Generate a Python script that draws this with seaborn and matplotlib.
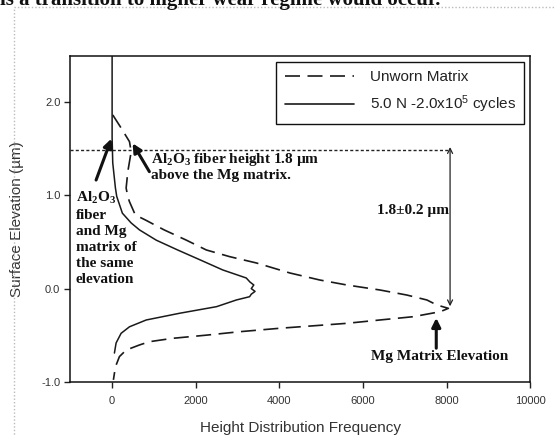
import matplotlib
matplotlib.use("Agg")
import matplotlib.pyplot as plt
import seaborn as sns
from matplotlib.patches import Rectangle
from matplotlib.lines import Line2D

# ---------------- data ----------------
worn_elev = [2.50, 1.62, 1.35, 1.08, 0.99, 0.81, 0.705, 0.63, 0.52, 0.415, 0.31, 0.20,
             0.114, 0.07, 0.039, 0.0, -0.03, -0.06, -0.087, -0.122, -0.194, -0.265,
             -0.337, -0.41, -0.48, -0.584, -0.692]
worn_freq = [5, 5, 20, 84, 115, 250, 460, 660, 1060, 1570, 2100, 2650,
             3210, 3300, 3390, 3330, 3420, 3330, 3290, 2975, 2500, 1615,
             820, 420, 220, 100, 60]

unworn_elev = [1.865, 1.725, 1.578, 1.47, 1.256, 1.08, 0.987, 0.933, 0.79, 0.737, 0.63,
               0.52, 0.415, 0.343, 0.275, 0.168, 0.092, 0.039, -0.015, -0.069, -0.122,
               -0.176, -0.212, -0.248, -0.302, -0.337, -0.373, -0.40, -0.426, -0.463,
               -0.50, -0.534, -0.57, -0.605, -0.66, -0.73, -0.84, -0.98]
unworn_freq = [20, 220, 420, 460, 380, 340, 380, 420, 560, 800, 1250,
               1780, 2255, 2815, 3455, 4250, 4970, 5610, 6405, 7045, 7525,
               7765, 8040, 7845, 7195, 6405, 5610, 4800, 4010, 3050,
               2255, 1450, 900, 660, 340, 180, 84, 36]

series_labels = ["Unworn Matrix", "5.0 N -2.0x10$^{5}$ cycles"]
x_ticks = [0, 2000, 4000, 6000, 8000, 10000]
y_ticks = [-1.0, 0.0, 1.0, 2.0]
y_tick_labels = ["-1.0", "0.0", "1.0", "2.0"]

fiber_height = 1.49      # dotted reference level
matrix_level = -0.19     # Mg matrix elevation
arrow_x = 8080

# ---------------- style ----------------
sns.set_theme(style="white")
plt.rcParams["font.family"] = ["Liberation Sans", "DejaVu Sans"]
plt.rcParams["mathtext.fontset"] = "custom"
plt.rcParams["mathtext.rm"] = "Liberation Sans"
plt.rcParams["mathtext.it"] = "Liberation Sans:italic"
plt.rcParams["mathtext.bf"] = "Liberation Serif:bold"

fig = plt.figure(figsize=(5.56, 4.36), dpi=100)
ax = fig.add_axes([0.126, 0.1245, 0.828, 0.7475])

line_col = "#1a1a1a"
sns.lineplot(x=unworn_freq, y=unworn_elev, sort=False, estimator=None, ax=ax,
             color=line_col, lw=1.2, label=series_labels[0])
ax.lines[-1].set_dashes((9, 4.5))
sns.lineplot(x=worn_freq, y=worn_elev, sort=False, estimator=None, ax=ax,
             color=line_col, lw=1.1, label=series_labels[1])

ax.set_xlim(-1000, 10000)
ax.set_ylim(-1.0, 2.5)
ax.set_xticks(x_ticks)
ax.set_xticklabels([str(v) for v in x_ticks])
ax.set_yticks(y_ticks)
ax.set_yticklabels(y_tick_labels)
ax.tick_params(axis="both", direction="out", length=4, width=1, color="#222222",
               labelsize=8, labelcolor="#333333", pad=3, bottom=True, left=True)
ax.tick_params(axis="x", pad=6)
for s in ax.spines.values():
    s.set_color("#111111")
    s.set_linewidth(1.1)

ax.set_xlabel("Height Distribution Frequency", fontsize=11, color="#333333")
ax.set_ylabel("Surface Elevation (\u00b5m)", fontsize=11, color="#333333")
ax.xaxis.set_label_coords(0.5, -0.12)
ax.yaxis.set_label_coords(-0.10, 0.5)

# legend
h_dash = Line2D([], [], color=line_col, lw=1.2)
h_dash.set_dashes((9, 4.5))
h_solid = Line2D([], [], color=line_col, lw=1.2)
leg = ax.legend([h_dash, h_solid], series_labels, loc="upper right",
                bbox_to_anchor=(0.986, 0.981), borderaxespad=0, fontsize=11,
                handlelength=4.5, handletextpad=1.05, borderpad=0.55,
                labelspacing=0.6, fancybox=False, framealpha=1,
                edgecolor="#111111")
leg.get_frame().set_linewidth(1.0)
for t in leg.get_texts():
    t.set_color("#222222")

# reference dotted line + double arrow
ax.plot([-1000, arrow_x], [fiber_height, fiber_height], color="#222222", lw=1.0,
        dashes=(2.2, 1.6))
ax.annotate("", xy=(arrow_x, fiber_height + 0.03), xytext=(arrow_x, matrix_level),
            arrowprops=dict(arrowstyle="<->", color="#222222", lw=0.9,
                            mutation_scale=9, shrinkA=0, shrinkB=0))

serif = dict(family=["Liberation Serif", "DejaVu Serif"], weight="bold",
             color="#111111")
thick = dict(arrowstyle="-|>", color="#111111", lw=2.2, mutation_scale=13,
             shrinkA=0, shrinkB=0)

ax.text(935, 1.31,
        "Al$_{\\mathbf{2}}$O$_{\\mathbf{3}}$ fiber height 1.8 \u00b5m\nabove the Mg matrix.",
        ha="left", va="center", fontsize=11, linespacing=1.1, **serif)
ax.annotate("", xy=(495, 1.56), xytext=(895, 1.256), arrowprops=thick)
ax.text(-860, 1.06,
        "Al$_{\\mathbf{2}}$O$_{\\mathbf{3}}$\nfiber\nand Mg\nmatrix of\nthe same\nelevation",
        ha="left", va="top", fontsize=11, linespacing=1.3, **serif)
ax.annotate("", xy=(-12, 1.61), xytext=(-378, 1.166), arrowprops=thick)
ax.text(8060, 0.844, "1.8\u00b10.2 \u00b5m", ha="right", va="center", fontsize=11, **serif)
ax.text(7820, -0.73, "Mg Matrix Elevation", ha="center", va="center", fontsize=11, **serif)
ax.annotate("", xy=(7750, -0.315), xytext=(7750, -0.64), arrowprops=thick)

# page decorations (screenshot context)
fig.patches.append(Rectangle((14 / 556, -0.2), 1.2, 1.2 - 6.7 / 436, transform=fig.transFigure,
                             fill=False, ec="#bbbbbb", lw=1.0, ls=(0, (1, 1.5))))
fig.text(0.0, 1 - 5 / 436, "is a transition to higher wear regime would occur.",
         ha="left", va="baseline", fontsize=15,
         family=["Liberation Serif", "DejaVu Serif"], weight="bold", color="#111111")

fig.savefig("out.png", dpi=100)
